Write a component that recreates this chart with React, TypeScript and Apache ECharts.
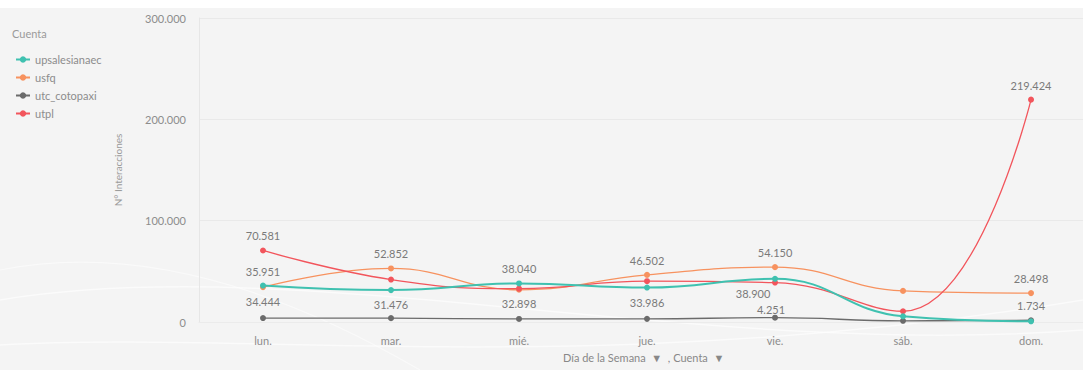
import React, { useEffect, useRef } from "react";
import * as echarts from "echarts";

const days = ["lun.", "mar.", "mié.", "jue.", "vie.", "sáb.", "dom."];
const seriesNames = ["upsalesianaec", "usfq", "utc_cotopaxi", "utpl"];
const upsalesianaec = [35951, 31476, 38040, 33986, 42600, 5600, 700];
const usfq = [34444, 52852, 31800, 46502, 54150, 30700, 28498];
const utcCotopaxi = [3900, 3800, 3000, 3100, 4251, 1200, 1734];
const utpl = [70581, 41900, 32898, 40300, 38900, 10600, 219424];
const colors = ["#3fc1b0", "#f7925f", "#6b6b6b", "#f2555c"];
const yTicks = { min: 0, max: 300000, interval: 100000 };
const dayIndex = [0, 1, 2, 3, 4, 5, 6];

// which points carry a value label, and where
const labelPos: Record<string, (string | null)[]> = {
  upsalesianaec: ["top", "bottom", "top", "bottom", null, null, null],
  usfq: ["bottom", "top", null, "top", "top", null, "top"],
  utc_cotopaxi: [null, null, null, null, "top", null, "top"],
  utpl: ["top", null, "bottom", null, "bottom", null, "top"],
};

const fmt = (v: number) =>
  Math.round(v)
    .toString()
    .replace(/\B(?=(\d{3})+(?!\d))/g, ".");

const FONT = "Lato, 'Open Sans', sans-serif";
const TXT = "#8c8c8c";

export default function App() {
  const ref = useRef<HTMLDivElement>(null);
  useEffect(() => {
    if (!ref.current) return;
    const chart = echarts.init(ref.current, null, { renderer: "svg" });
    const values = [upsalesianaec, usfq, utcCotopaxi, utpl];
    const series = seriesNames.map((name, si) => ({
      name,
      type: "line",
      smooth: 0.45,
      symbol: "circle",
      symbolSize: 6,
      z: si === 0 ? 3 : 2,
      lineStyle: { width: si === 0 ? 2 : 1.3, color: colors[si] },
      itemStyle: { color: colors[si] },
      data: values[si].map((v, i) => {
        const pos = labelPos[name][i];
        let offset = [0, 0];
        if (name === "utpl" && i === 4) offset = [-22, -4];
        if (name === "utc_cotopaxi" && i === 4) offset = [-4, 6];
        return {
          value: [dayIndex[i], v],
          label: pos
            ? {
                show: true,
                position: pos,
                distance: 6,
                offset,
                formatter: (p: any) => fmt(p.value[1]),
                color: "#7a7a7a",
                fontSize: 11,
                fontFamily: FONT,
              }
            : { show: false },
        };
      }),
    }));
    chart.setOption({
      animation: false,
      backgroundColor: "#ffffff",
      textStyle: { fontFamily: FONT },
      graphic: [
        {
          type: "rect",
          z: -10,
          silent: true,
          shape: { x: 0, y: 8, width: 1083, height: 362 },
          style: { fill: "#f4f4f4" },
        },
        {
          type: "bezierCurve",
          z: -9,
          silent: true,
          shape: { x1: 0, y1: 300, x2: 1083, y2: 330, cpx1: 300, cpy1: 250, cpx2: 700, cpy2: 360 },
          style: { stroke: "#ffffff", lineWidth: 1.5, fill: null, opacity: 0.6 },
        },
        {
          type: "bezierCurve",
          z: -9,
          silent: true,
          shape: { x1: 0, y1: 345, x2: 1083, y2: 300, cpx1: 250, cpy1: 330, cpx2: 600, cpy2: 380 },
          style: { stroke: "#ffffff", lineWidth: 1.5, fill: null, opacity: 0.6 },
        },
        {
          type: "bezierCurve",
          z: -9,
          silent: true,
          shape: { x1: 0, y1: 270, x2: 420, y2: 370, cpx1: 150, cpy1: 240, cpx2: 300, cpy2: 300 },
          style: { stroke: "#ffffff", lineWidth: 1.2, fill: null, opacity: 0.5 },
        },
        {
          type: "text",
          left: 563,
          top: 352,
          silent: true,
          style: {
            text: "Día de la Semana  ▼  , Cuenta  ▼",
            fill: "#888888",
            fontSize: 11,
            fontFamily: FONT,
          },
        },
      ],
      title: {
        text: "Cuenta",
        left: 7,
        top: 23,
        textStyle: { color: "#9a9a9a", fontSize: 11, fontWeight: "normal", fontFamily: FONT },
      },
      legend: {
        orient: "vertical",
        left: 10,
        top: 49,
        itemGap: 7,
        itemWidth: 14,
        itemHeight: 8,
        textStyle: { color: "#8c8c8c", fontSize: 11, fontFamily: FONT },
        data: seriesNames,
      },
      grid: { left: 199, top: 18, right: 0, bottom: 48 },
      xAxis: {
        type: "value",
        min: -0.5,
        max: 6.406,
        axisLine: { show: true, onZero: false, lineStyle: { color: "#ebebeb" } },
        axisTick: { show: false },
        splitLine: { show: false },
        axisLabel: {
          color: TXT,
          fontSize: 11,
          margin: 13,
          fontFamily: FONT,
          customValues: dayIndex,
          formatter: (v: number) => days[Math.round(v)] ?? "",
        },
      },
      yAxis: {
        type: "value",
        min: yTicks.min,
        max: yTicks.max,
        interval: yTicks.interval,
        name: "N° Interacciones",
        nameLocation: "middle",
        nameGap: 76,
        nameTextStyle: { color: "#9a9a9a", fontSize: 10, fontFamily: FONT },
        axisLine: { show: true, onZero: false, lineStyle: { color: "#e6e6e6" } },
        axisTick: { show: false },
        axisLabel: {
          color: TXT,
          fontSize: 11,
          margin: 13,
          fontFamily: FONT,
          formatter: (v: number) => fmt(v),
        },
        splitLine: { lineStyle: { color: "#e9e9e9" } },
      },
      series,
    });
    return () => chart.dispose();
  }, []);
  return (
    <div
      ref={ref}
      style={{ position: "fixed", left: 0, top: 0, width: 1083, height: 370 }}
    />
  );
}
